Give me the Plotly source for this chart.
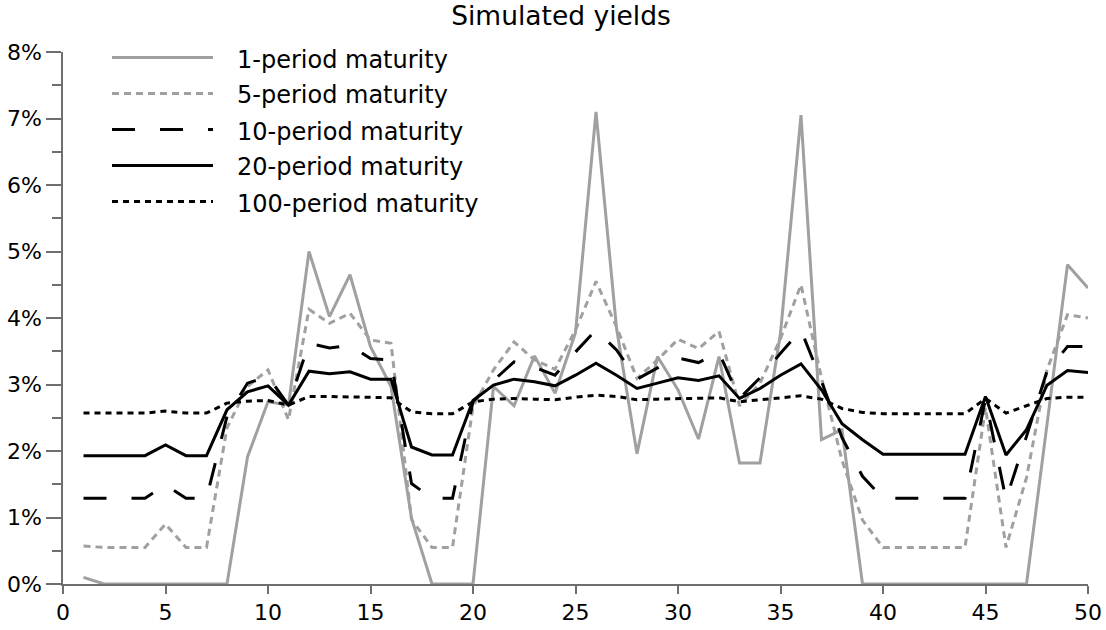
import plotly.graph_objects as go

# ---- data (yields in percent) ----
periods = list(range(1, 51))

y_1 = [0.10, 0, 0, 0, 0, 0, 0, 0, 1.91, 2.74,
       2.69, 5.00, 4.02, 4.65, 3.57, 2.97, 0.99, 0, 0, 0,
       2.97, 2.68, 3.43, 2.87, 3.78, 7.10, 3.85, 1.96, 3.42, 2.92,
       2.18, 3.42, 1.82, 1.82, 3.77, 7.05, 2.17, 2.32, 0, 0,
       0, 0, 0, 0, 0, 0, 0, 2.40, 4.80, 4.45]

y_5 = [0.57, 0.55, 0.55, 0.55, 0.90, 0.55, 0.55, 2.35, 2.97, 3.22,
       2.47, 4.13, 3.92, 4.07, 3.67, 3.62, 0.97, 0.55, 0.55, 2.67,
       3.22, 3.64, 3.37, 3.23, 3.82, 4.55, 3.87, 3.09, 3.37, 3.68,
       3.54, 3.80, 2.68, 3.02, 3.69, 4.50, 3.10, 1.86, 0.96, 0.55,
       0.55, 0.55, 0.55, 0.55, 2.65, 0.55, 1.60, 3.22, 4.05, 4.00]

y_10 = [1.29, 1.29, 1.29, 1.29, 1.49, 1.29, 1.29, 2.52, 3.02, 3.12,
        2.69, 3.62, 3.55, 3.59, 3.39, 3.37, 1.51, 1.29, 1.29, 2.74,
        3.06, 3.34, 3.26, 3.14, 3.49, 3.82, 3.52, 3.08, 3.25, 3.40,
        3.33, 3.48, 2.79, 3.10, 3.47, 3.82, 3.05, 2.20, 1.62, 1.29,
        1.29, 1.29, 1.29, 1.29, 2.78, 1.27, 2.22, 3.20, 3.57, 3.57]

y_20 = [1.93, 1.93, 1.93, 1.93, 2.09, 1.93, 1.93, 2.62, 2.89, 2.98,
        2.69, 3.20, 3.16, 3.19, 3.08, 3.08, 2.06, 1.94, 1.94, 2.76,
        2.99, 3.08, 3.04, 2.98, 3.14, 3.32, 3.14, 2.94, 3.02, 3.10,
        3.06, 3.13, 2.79, 2.94, 3.14, 3.31, 2.92, 2.41, 2.17, 1.95,
        1.95, 1.95, 1.95, 1.95, 2.82, 1.94, 2.32, 2.99, 3.21, 3.18]

y_100 = [2.57, 2.57, 2.57, 2.57, 2.60, 2.57, 2.57, 2.72, 2.75, 2.76,
         2.69, 2.82, 2.82, 2.81, 2.81, 2.80, 2.59, 2.56, 2.56, 2.74,
         2.78, 2.79, 2.78, 2.77, 2.81, 2.84, 2.82, 2.77, 2.78, 2.79,
         2.79, 2.80, 2.74, 2.77, 2.81, 2.83, 2.78, 2.64, 2.58, 2.56,
         2.56, 2.56, 2.56, 2.56, 2.79, 2.57, 2.68, 2.79, 2.81, 2.81]

series_names = ["1-period maturity", "5-period maturity", "10-period maturity",
                "20-period maturity", "100-period maturity"]
series_values = [y_1, y_5, y_10, y_20, y_100]

x_tick_vals = [0, 5, 10, 15, 20, 25, 30, 35, 40, 45, 50]
y_tick_vals = [0, 1, 2, 3, 4, 5, 6, 7, 8]
y_tick_text = ["0%", "1%", "2%", "3%", "4%", "5%", "6%", "7%", "8%"]

# ---- styles ----
GRAY = "#a0a0a0"
styles = [
    dict(color=GRAY, width=3, dash="solid"),
    dict(color=GRAY, width=3, dash="7px,5px"),
    dict(color="black", width=3, dash="23px,25px"),
    dict(color="black", width=3, dash="solid"),
    dict(color="black", width=3, dash="6px,5px"),
]

W, H = 1106, 630
ML, MR, MT, MB = 63, 18, 52, 46
PW, PH = W - ML - MR, H - MT - MB
FONT = "DejaVu Sans"

fig = go.Figure()
for name, vals, st in zip(series_names, series_values, styles):
    fig.add_trace(go.Scatter(x=periods, y=vals, mode="lines", name=name,
                             line=st, showlegend=False))

# ---- manual legend (long line samples as in the reference) ----
def px_x(p):
    return (p - ML) / PW

def px_y(p):
    return (H - MB - p) / PH

leg_rows = [57.5, 93.5, 129.5, 165.5, 201.5]
for name, st, ry in zip(series_names, styles, leg_rows):
    fig.add_shape(type="line", xref="paper", yref="paper",
                  x0=px_x(112), x1=px_x(213), y0=px_y(ry), y1=px_y(ry),
                  line=st)
    fig.add_annotation(xref="paper", yref="paper", x=px_x(235), y=px_y(ry + 2),
                       text=name, showarrow=False, xanchor="left", yanchor="middle",
                       font=dict(family=FONT, size=24, color="black"))

AXC = "#6e6e6e"
fig.update_layout(
    width=W, height=H,
    margin=dict(l=ML, r=MR, t=MT, b=MB, pad=0, autoexpand=False),
    paper_bgcolor="white", plot_bgcolor="white",
    title=dict(text="Simulated yields", x=561 / W, xanchor="center",
               y=1 - 16 / H, yanchor="middle", automargin=False,
               font=dict(family=FONT, size=26.5, color="black")),
    font=dict(family=FONT, size=22, color="black"),
    xaxis=dict(range=[0, 50], tickvals=x_tick_vals, showgrid=False, zeroline=False,
               showline=True, linecolor=AXC, linewidth=1.5, automargin=False,
               ticks="outside", ticklen=8, tickcolor=AXC, tickwidth=1.5,
               tickfont=dict(family=FONT, size=22, color="black")),
    yaxis=dict(range=[0, 8], tickvals=y_tick_vals, ticktext=y_tick_text, showgrid=False,
               zeroline=False, showline=True, linecolor=AXC, linewidth=1.5,
               automargin=False,
               ticks="outside", ticklen=15, tickcolor=AXC, tickwidth=1.5,
               tickfont=dict(family=FONT, size=22, color="black"),
               minor=dict(dtick=0.5, ticks="outside", ticklen=9,
                          tickcolor=AXC, tickwidth=1.5, showgrid=False)),
)

fig.write_html("out.html", config={"displayModeBar": False},
               post_script="document.body.style.margin='0';document.body.style.overflow='hidden';")
